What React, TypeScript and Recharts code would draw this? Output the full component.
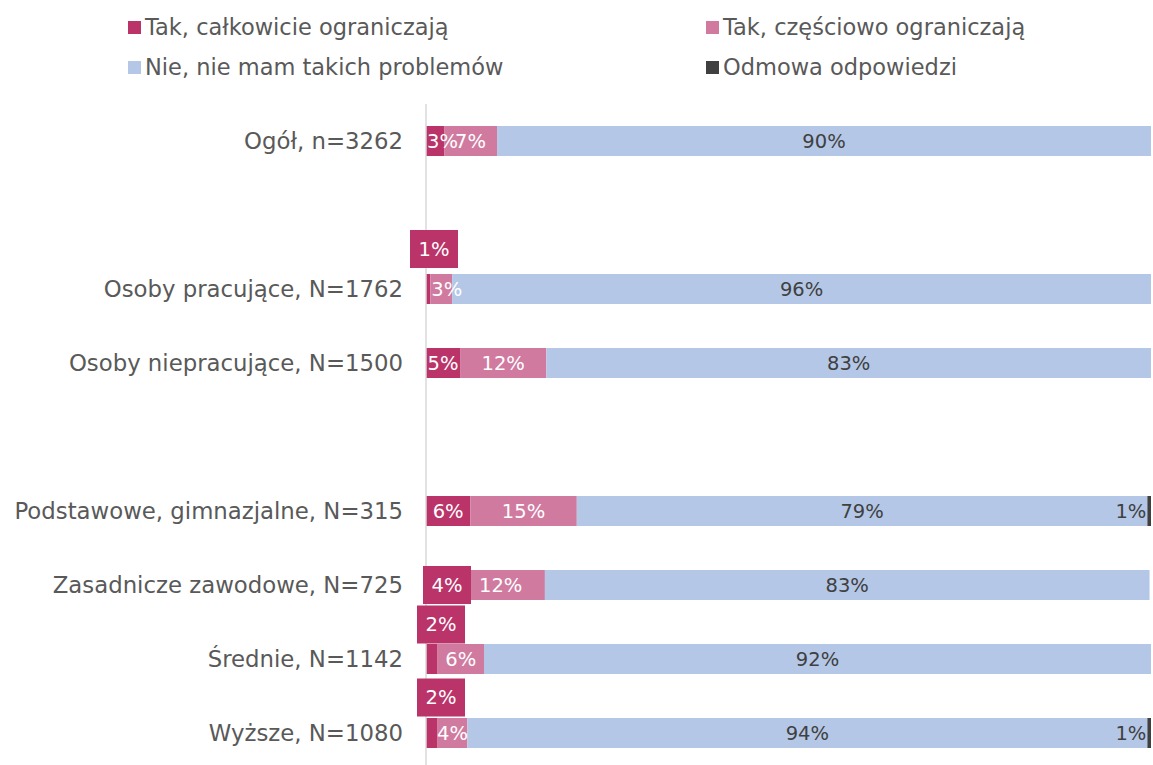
import React from "react";
import { BarChart, Bar, XAxis, YAxis, LabelList } from "recharts";

// categories (empty strings are the spacer rows between groups)
const categories = [
  "Ogół, n=3262",
  "",
  "Osoby pracujące, N=1762",
  "Osoby niepracujące, N=1500",
  " ",
  "Podstawowe, gimnazjalne, N=315",
  "Zasadnicze zawodowe, N=725",
  "Średnie, N=1142",
  "Wyższe, N=1080",
];

const calkowicie = [2.5, 0, 0.6, 4.7, 0, 6.1, 4.2, 1.6, 1.6];
const czesciowo = [7.3, 0, 3.0, 11.9, 0, 14.7, 12.2, 6.4, 4.1];
const nieMam = [90.2, 0, 96.4, 83.4, 0, 78.7, 83.4, 92.0, 93.8];
const odmowa = [0, 0, 0, 0, 0, 0.5, 0, 0, 0.5];

const seriesNames = [
  "Tak, całkowicie ograniczają",
  "Tak, częściowo ograniczają",
  "Nie, nie mam takich problemów",
  "Odmowa odpowiedzi",
];

const COLORS = ["#BA3369", "#D07A9F", "#B4C7E7", "#404040"];
const TEXT = "#595959";
const FONT = "'DejaVu Sans', sans-serif";
const LABEL_SIZE = 19.5;

const PLOT_TOP = 104;
const BAND = 74;

const rows = categories.map((name, i) => ({
  name,
  calkowicie: calkowicie[i],
  czesciowo: czesciowo[i],
  nieMam: nieMam[i],
  odmowa: odmowa[i],
}));

// labels that Excel moved into a filled box (row -> offset from bar start / bar centre)
const boxedLabels: Record<number, { dx: number; dy: number }> = {
  2: { dx: 8, dy: -40 },
  6: { dx: 21, dy: 0 },
  7: { dx: 15, dy: -34.5 },
  8: { dx: 15, dy: -35.5 },
};

const fmt = (v: number) => `${Math.round(v)}%`;

const makeLabel =
  (color: string, boxed: boolean) =>
  // eslint-disable-next-line @typescript-eslint/no-explicit-any
  (props: any) => {
    const { x, y, width, height, value } = props;
    if (!value) return null;
    const w = Number(width);
    const cx = Number(x) + w / 2;
    const cy = Number(y) + Number(height) / 2;
    // LabelList skips empty bars, so find the row from the band position
    const row = Math.floor((cy - PLOT_TOP) / BAND);
    const box = boxed ? boxedLabels[row] : undefined;
    if (box) {
      const bx = Number(x) + box.dx;
      const by = cy + box.dy;
      return (
        <g>
          <rect x={bx - 24} y={by - 19} width={48} height={38} fill={COLORS[0]} />
          <text
            x={bx}
            y={by}
            fill="#fff"
            fontSize={LABEL_SIZE}
            fontFamily={FONT}
            textAnchor="middle"
            dominantBaseline="central"
          >
            {fmt(value)}
          </text>
        </g>
      );
    }
    // narrow segments: text starts at the segment and runs over to the right
    const narrow = w < 25;
    return (
      <text
        x={narrow ? Number(x) + 1 : cx}
        y={cy}
        fill={color}
        fontSize={LABEL_SIZE}
        fontFamily={FONT}
        textAnchor={narrow ? "start" : "middle"}
        dominantBaseline="central"
      >
        {fmt(value)}
      </text>
    );
  };

// eslint-disable-next-line @typescript-eslint/no-explicit-any
const odmowaLabel = (props: any) => {
  const { x, y, height, value } = props;
  if (!value) return null;
  return (
    <text
      x={Number(x) - 1}
      y={Number(y) + Number(height) / 2}
      fill="#404040"
      fontSize={LABEL_SIZE}
      fontFamily={FONT}
      textAnchor="end"
      dominantBaseline="central"
    >
      {fmt(value)}
    </text>
  );
};

const legendPos = [
  { left: 128, top: 27 },
  { left: 706, top: 27 },
  { left: 128, top: 67 },
  { left: 706, top: 67 },
];

export default function App() {
  return (
    <div
      style={{
        position: "absolute",
        left: 0,
        top: 0,
        width: 1153,
        height: 765,
        overflow: "hidden",
        background: "#fff",
        fontFamily: FONT,
      }}
    >
      {seriesNames.map((s, i) => (
        <div
          key={s}
          style={{
            position: "absolute",
            left: legendPos[i].left,
            top: legendPos[i].top - 14,
            height: 28,
            display: "flex",
            alignItems: "center",
            color: TEXT,
            fontSize: 22.5,
            whiteSpace: "nowrap",
          }}
        >
          <span
            style={{
              display: "inline-block",
              width: 13,
              height: 13,
              background: COLORS[i],
              marginRight: 4,
            }}
          />
          {s}
        </div>
      ))}
      <BarChart
        width={1153}
        height={775}
        data={rows}
        layout="vertical"
        margin={{ top: PLOT_TOP, right: 2, bottom: 5, left: 0 }}
        barSize={30}
        style={{ position: "absolute", left: 0, top: 0 }}
      >
        <XAxis type="number" domain={[0, 100]} hide />
        <YAxis
          type="category"
          dataKey="name"
          width={426}
          axisLine={{ stroke: "#D9D9D9", strokeWidth: 1.5 }}
          tickLine={false}
          tickSize={0}
          tickMargin={23}
          interval={0}
          tick={{ fill: TEXT, fontSize: 22.8, fontFamily: FONT }}
        />
        <Bar dataKey="calkowicie" stackId="a" fill={COLORS[0]} isAnimationActive={false}>
          <LabelList dataKey="calkowicie" content={makeLabel("#fff", true)} />
        </Bar>
        <Bar dataKey="czesciowo" stackId="a" fill={COLORS[1]} isAnimationActive={false}>
          <LabelList dataKey="czesciowo" content={makeLabel("#fff", false)} />
        </Bar>
        <Bar dataKey="nieMam" stackId="a" fill={COLORS[2]} isAnimationActive={false}>
          <LabelList dataKey="nieMam" content={makeLabel("#404040", false)} />
        </Bar>
        <Bar dataKey="odmowa" stackId="a" fill={COLORS[3]} isAnimationActive={false}>
          <LabelList dataKey="odmowa" content={odmowaLabel} />
        </Bar>
      </BarChart>
    </div>
  );
}
